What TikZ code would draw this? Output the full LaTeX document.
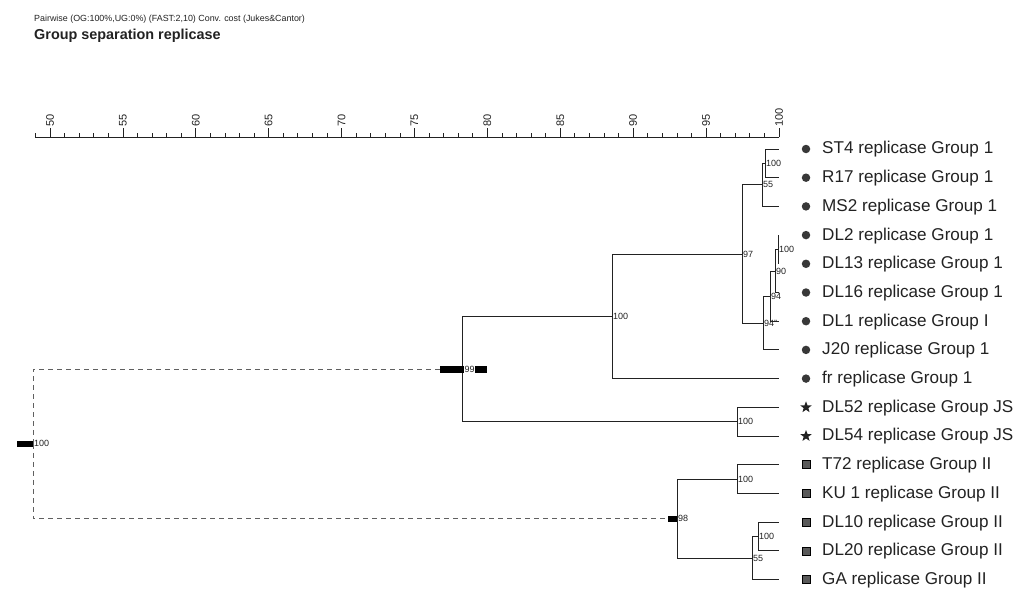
\documentclass[tikz,border=0pt]{standalone}
\usepackage{fontspec}
\setmainfont{Liberation Sans}
\usetikzlibrary{shapes.geometric}
\definecolor{ink}{HTML}{222222}
\tikzset{
  br/.style={draw=ink,line width=0.9pt},
  dsh/.style={draw=gray!75!black,line width=0.9pt,dash pattern=on 5pt off 4pt},
  bar/.style={fill=black},
  bs/.style={font=\fontsize{9}{10}\selectfont,text=ink,inner sep=1pt,anchor=west},
  lab/.style={font=\fontsize{17.1}{19}\selectfont,text=ink,inner sep=0pt,anchor=west},
  dotmark/.style={circle,fill=ink!90,inner sep=0pt,minimum size=8.5pt},
  starmark/.style={star,star points=5,star point ratio=2.4,fill=ink,inner sep=0pt,minimum size=12pt},
  sqmark/.style={rectangle,draw=black,fill=gray!70!black,line width=0.6pt,inner sep=0pt,minimum size=8pt},
  tick/.style={draw=ink,line width=0.8pt}
}
\begin{document}
\begin{tikzpicture}[x=1pt,y=-1pt]
  \useasboundingbox (0,0) rectangle (1024,602);
  % header
  \node[anchor=west,inner sep=0pt,font=\fontsize{8.9}{10}\selectfont,text=ink] (hd) at (34,19)
    {Pairwise (OG:100\%,UG:0\%) (FAST:2,10) Conv. cost (Jukes\&Cantor)};
  \node[anchor=west,inner sep=0pt,font=\fontsize{14.4}{16}\bfseries\selectfont,text=ink] (tt) at (34,36)
    {Group separation replicase};
  % scale
  \draw[tick] (35.4,137) -- (779,137);
  \foreach \v in {49,...,100}
    \draw[tick] ({50+(\v-50)*14.58},137) -- ++(0,-4);
  \foreach \v in {50,55,...,100}
    \draw[tick] ({50+(\v-50)*14.58},137) -- ++(0,-9)
      node[rotate=90,anchor=west,inner sep=1pt,font=\fontsize{11}{12}\selectfont,text=ink] (s\v) {\v};
  % leaves
  \coordinate (t1) at (779,149);
  \coordinate (t2) at (779,177.7);
  \coordinate (t3) at (779,206.4);
  \coordinate (t4) at (779,235.1);
  \coordinate (t5) at (779,263.8);
  \coordinate (t6) at (779,292.5);
  \coordinate (t7) at (779,321.2);
  \coordinate (t8) at (779,349.9);
  \coordinate (t9) at (779,378.6);
  \coordinate (t10) at (779,407.3);
  \coordinate (t11) at (779,436);
  \coordinate (t12) at (779,464.7);
  \coordinate (t13) at (779,493.4);
  \coordinate (t14) at (779,522.1);
  \coordinate (t15) at (779,550.8);
  \coordinate (t16) at (779,579.5);
  \node[dotmark] (m1) at (806,149) {};
  \node[dotmark] (m2) at (806,177.7) {};
  \node[dotmark] (m3) at (806,206.4) {};
  \node[dotmark] (m4) at (806,235.1) {};
  \node[dotmark] (m5) at (806,263.8) {};
  \node[dotmark] (m6) at (806,292.5) {};
  \node[dotmark] (m7) at (806,321.2) {};
  \node[dotmark] (m8) at (806,349.9) {};
  \node[dotmark] (m9) at (806,378.6) {};
  \node[starmark] (m10) at (806,407.3) {};
  \node[starmark] (m11) at (806,436) {};
  \node[sqmark] (m12) at (806,464.7) {};
  \node[sqmark] (m13) at (806,493.4) {};
  \node[sqmark] (m14) at (806,522.1) {};
  \node[sqmark] (m15) at (806,550.8) {};
  \node[sqmark] (m16) at (806,579.5) {};
  \node[lab] (l1) at (822,149.5) {ST4 replicase Group 1};
  \node[lab] (l2) at (822,178.2) {R17 replicase Group 1};
  \node[lab] (l3) at (822,206.9) {MS2 replicase Group 1};
  \node[lab] (l4) at (822,235.6) {DL2 replicase Group 1};
  \node[lab] (l5) at (822,264.3) {DL13 replicase Group 1};
  \node[lab] (l6) at (822,293) {DL16 replicase Group 1};
  \node[lab] (l7) at (822,321.7) {DL1 replicase Group I};
  \node[lab] (l8) at (822,350.4) {J20 replicase Group 1};
  \node[lab] (l9) at (822,379.1) {fr replicase Group 1};
  \node[lab] (l10) at (822,407.8) {DL52 replicase Group JS};
  \node[lab] (l11) at (822,436.5) {DL54 replicase Group JS};
  \node[lab] (l12) at (822,465.2) {T72 replicase Group II};
  \node[lab] (l13) at (822,493.9) {KU 1 replicase Group II};
  \node[lab] (l14) at (822,522.6) {DL10 replicase Group II};
  \node[lab] (l15) at (822,551.3) {DL20 replicase Group II};
  \node[lab] (l16) at (822,580) {GA replicase Group II};
  % inner nodes
  \coordinate (a100) at (765,163.35);
  \coordinate (a55) at (762,184.9);
  \coordinate (b100) at (778,249.45);
  \coordinate (b90) at (775,271);
  \coordinate (b94) at (770,296.1);
  \coordinate (b94q) at (763,323);
  \coordinate (c97) at (742,254);
  \coordinate (d100) at (612,316.3);
  \coordinate (e100) at (737,421.65);
  \coordinate (f99) at (462,369);
  \coordinate (g100) at (737,479.05);
  \coordinate (h100) at (758,536.45);
  \coordinate (h55) at (752,558);
  \coordinate (i98) at (677,518.5);
  \coordinate (root) at (33,443.75);
  % branches
  \begin{scope}[br]
    \draw (a100) |- (t1);
    \draw (a100) |- (t2);
    \draw (a55) |- (a100);
    \draw (a55) |- (t3);
    \draw (b100) |- (t4);
    \draw (b100) |- (t5);
    \draw (b90) |- (b100);
    \draw (b90) |- (t6);
    \draw (b94) |- (b90);
    \draw (b94) |- (t7);
    \draw (b94q) |- (b94);
    \draw (b94q) |- (t8);
    \draw (c97) |- (a55);
    \draw (c97) |- (b94q);
    \draw (d100) |- (c97);
    \draw (d100) |- (t9);
    \draw (e100) |- (t10);
    \draw (e100) |- (t11);
    \draw (f99) |- (d100);
    \draw (f99) |- (e100);
    \draw (g100) |- (t12);
    \draw (g100) |- (t13);
    \draw (h100) |- (t14);
    \draw (h100) |- (t15);
    \draw (h55) |- (h100);
    \draw (h55) |- (t16);
    \draw (i98) |- (g100);
    \draw (i98) |- (h55);
  \end{scope}
  \begin{scope}[dsh]
    \draw (root) |- (f99);
    \draw (root) |- (i98);
  \end{scope}
  % bars
  \fill[bar] (17,440.5) rectangle (33,447);
  \fill[bar] (440,365.5) rectangle (487,372.5);
  \fill[bar] (668,515.5) rectangle (677,521.5);
  % support values
  \node[bs] (v1) at (a100) {100};
  \node[bs] (v2) at (a55) {55};
  \node[bs] (v3) at (b100) {100};
  \node[bs] (v4) at (b90) {90};
  \node[bs] (v5) at (b94) {94};
  \node[bs] (v6) at (b94q) {94"};
  \node[bs] (v7) at (c97) {97};
  \node[bs] (v8) at (d100) {100};
  \node[bs] (v9) at (e100) {100};
  \node[bs,fill=white,inner sep=0.5pt] (v10) at (464,369) {99};
  \node[bs] (v11) at (g100) {100};
  \node[bs] (v12) at (h100) {100};
  \node[bs] (v13) at (h55) {55};
  \node[bs] (v14) at (i98) {98};
  \node[bs] (v15) at (root) {100};
\end{tikzpicture}
\end{document}
